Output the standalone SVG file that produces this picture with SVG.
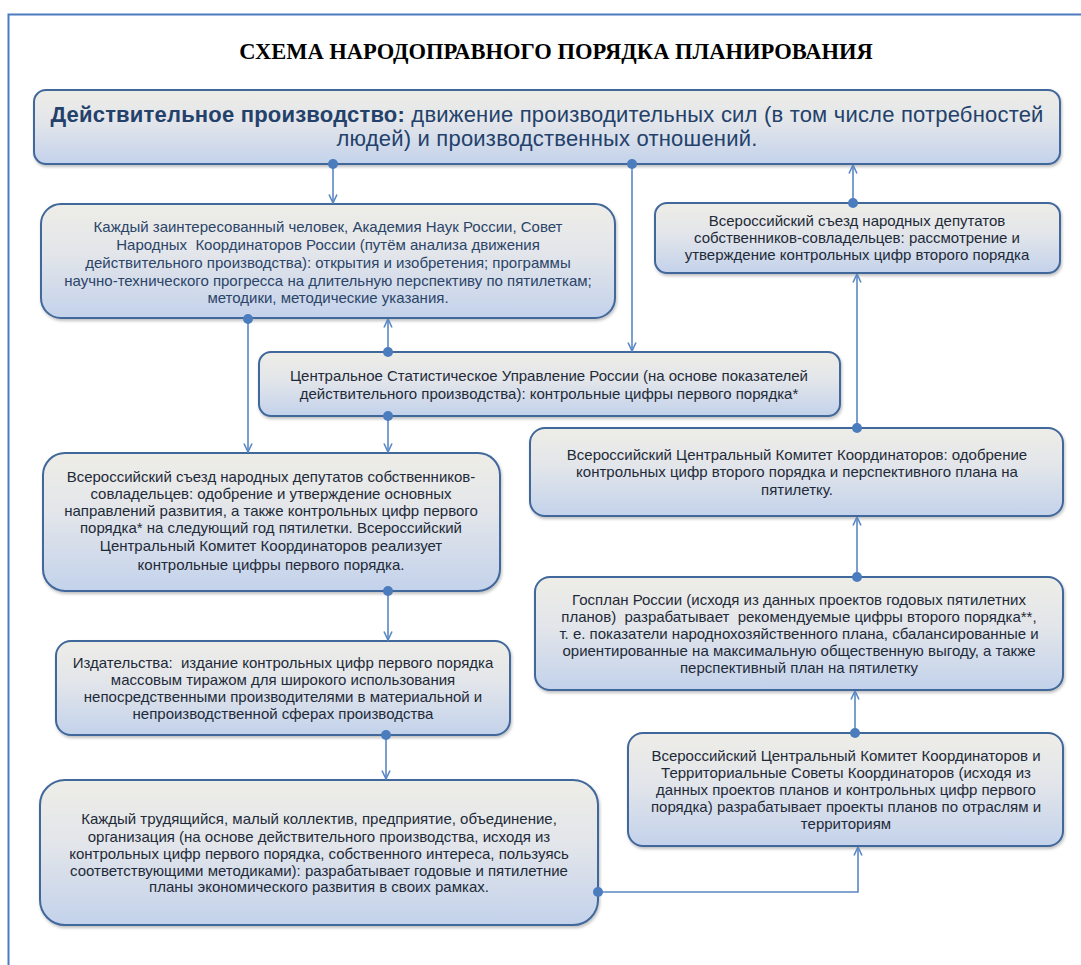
<svg xmlns="http://www.w3.org/2000/svg" width="1081" height="965" viewBox="0 0 1081 965">
  <defs>
    <linearGradient id="boxFill" x1="0" y1="0" x2="0" y2="1">
      <stop offset="0" stop-color="#eeede7"/>
      <stop offset="0.45" stop-color="#e2e5ea"/>
      <stop offset="1" stop-color="#c3d2eb"/>
    </linearGradient>
    <filter id="shadow" x="-5%" y="-5%" width="110%" height="115%">
      <feDropShadow dx="1" dy="2" stdDeviation="1.5" flood-color="#000" flood-opacity="0.25"/>
    </filter>
    <marker id="arrow" viewBox="0 0 10 10" refX="9.5" refY="5" markerWidth="10" markerHeight="10" markerUnits="userSpaceOnUse" orient="auto">
      <path d="M1,1 L9.5,5 L1,9" fill="none" stroke="#5a88c4" stroke-width="1.6"/>
    </marker>
    <marker id="dot" viewBox="0 0 10 10" refX="5" refY="5" markerWidth="10" markerHeight="10" markerUnits="userSpaceOnUse">
      <circle cx="5" cy="5" r="5" fill="#4a7cbe"/>
    </marker>
  </defs>
  <style>
    .box { fill: url(#boxFill); stroke: #41679a; stroke-width: 2; filter: url(#shadow); }
    .t { font-family: "Liberation Sans", Arial, sans-serif; font-size: 15px; fill: #1e2a38; text-anchor: middle; white-space: pre; }
    .tb { fill: #2b4468; }
    .head { font-family: "Liberation Sans", Arial, sans-serif; font-size: 22px; letter-spacing: 0.2px; fill: #23416a; text-anchor: middle; }
    .title { font-family: "Liberation Serif", "Times New Roman", serif; font-size: 22.5px; font-weight: bold; fill: #000; text-anchor: middle; }
    .conn { fill: none; stroke: #5a88c4; stroke-width: 1.6; marker-start: url(#dot); marker-end: url(#arrow); }
  </style>

  <rect width="1081" height="965" fill="#ffffff"/>
  <path d="M8.5,965 V14.5 H1081" fill="none" stroke="#4a7cbe" stroke-width="2"/>

  <text class="title" x="556" y="59">СХЕМА НАРОДОПРАВНОГО ПОРЯДКА ПЛАНИРОВАНИЯ</text>

  <g id="node-production">
    <rect class="box" x="34" y="90" width="1026" height="74" rx="12"/>
    <text class="head" x="547" y="122"><tspan font-weight="bold">Действительное производство:</tspan> движение производительных сил (в том числе потребностей</text>
    <text class="head" x="547" y="146">людей) и производственных отношений.</text>
  </g>

  <g id="node-science">
    <rect class="box" x="41" y="204" width="574" height="114" rx="20"/>
    <text class="t tb" x="328" y="232">Каждый заинтересованный человек, Академия Наук России, Совет</text>
    <text class="t tb" x="328" y="250">Народных  Координаторов России (путём анализа движения</text>
    <text class="t tb" x="328" y="268">действительного производства): открытия и изобретения; программы</text>
    <text class="t tb" x="328" y="286">научно-технического прогресса на длительную перспективу по пятилеткам;</text>
    <text class="t tb" x="328" y="303">методики, методические указания.</text>
  </g>

  <g id="node-csu">
    <rect class="box" x="259" y="352" width="581" height="64" rx="12"/>
    <text class="t" x="549" y="381">Центральное Статистическое Управление России (на основе показателей</text>
    <text class="t" x="549" y="399">действительного производства): контрольные цифры первого порядка*</text>
  </g>

  <g id="node-congress-2">
    <rect class="box" x="655" y="203" width="405" height="70" rx="12"/>
    <text class="t" x="857" y="226">Всероссийский съезд народных депутатов</text>
    <text class="t" x="857" y="243">собственников-совладельцев: рассмотрение и</text>
    <text class="t" x="857" y="260">утверждение контрольных цифр второго порядка</text>
  </g>

  <g id="node-vckk-approve">
    <rect class="box" x="530" y="428" width="533" height="88" rx="15"/>
    <text class="t" x="797" y="460">Всероссийский Центральный Комитет Координаторов: одобрение</text>
    <text class="t" x="797" y="477">контрольных цифр второго порядка и перспективного плана на</text>
    <text class="t" x="797" y="495">пятилетку.</text>
  </g>

  <g id="node-gosplan">
    <rect class="box" x="535" y="577" width="528" height="113" rx="15"/>
    <text class="t" x="799" y="605">Госплан России (исходя из данных проектов годовых пятилетних</text>
    <text class="t" x="799" y="622">планов)  разрабатывает  рекомендуемые цифры второго порядка**,</text>
    <text class="t" x="799" y="639">т. е. показатели народнохозяйственного плана, сбалансированные и</text>
    <text class="t" x="799" y="656">ориентированные на максимальную общественную выгоду, а также</text>
    <text class="t" x="799" y="673">перспективный план на пятилетку</text>
  </g>

  <g id="node-vckk-territories">
    <rect class="box" x="628" y="733" width="435" height="113" rx="15"/>
    <text class="t" x="846" y="761">Всероссийский Центральный Комитет Координаторов и</text>
    <text class="t" x="846" y="778">Территориальные Советы Координаторов (исходя из</text>
    <text class="t" x="846" y="795">данных проектов планов и контрольных цифр первого</text>
    <text class="t" x="846" y="812">порядка) разрабатывает проекты планов по отраслям и</text>
    <text class="t" x="846" y="829">территориям</text>
  </g>

  <g id="node-congress-1">
    <rect class="box" x="43" y="453" width="457" height="138" rx="22"/>
    <text class="t" x="271" y="482">Всероссийский съезд народных депутатов собственников-</text>
    <text class="t" x="271" y="499">совладельцев: одобрение и утверждение основных</text>
    <text class="t" x="271" y="516">направлений развития, а также контрольных цифр первого</text>
    <text class="t" x="271" y="533">порядка* на следующий год пятилетки. Всероссийский</text>
    <text class="t" x="271" y="551">Центральный Комитет Координаторов реализует</text>
    <text class="t" x="271" y="570">контрольные цифры первого порядка.</text>
  </g>

  <g id="node-publishers">
    <rect class="box" x="56" y="641" width="454" height="94" rx="15"/>
    <text class="t" x="283" y="668">Издательства:  издание контрольных цифр первого порядка</text>
    <text class="t" x="283" y="685">массовым тиражом для широкого использования</text>
    <text class="t" x="283" y="702">непосредственными производителями в материальной и</text>
    <text class="t" x="283" y="719">непроизводственной сферах производства</text>
  </g>

  <g id="node-workers">
    <rect class="box" x="40" y="780" width="558" height="145" rx="25"/>
    <text class="t" x="319" y="824">Каждый трудящийся, малый коллектив, предприятие, объединение,</text>
    <text class="t" x="319" y="842">организация (на основе действительного производства, исходя из</text>
    <text class="t" x="319" y="859">контрольных цифр первого порядка, собственного интереса, пользуясь</text>
    <text class="t" x="319" y="876">соответствующими методиками): разрабатывает годовые и пятилетние</text>
    <text class="t" x="319" y="892">планы экономического развития в своих рамках.</text>
  </g>

  <g id="connectors">
    <path class="conn" d="M333,164 V203"/>
    <path class="conn" d="M632,164 V351"/>
    <path class="conn" d="M853,203 V165"/>
    <path class="conn" d="M248,319 V452"/>
    <path class="conn" d="M388,352 V319"/>
    <path class="conn" d="M388,416 V452"/>
    <path class="conn" d="M857,428 V274"/>
    <path class="conn" d="M388,591 V640"/>
    <path class="conn" d="M857,577 V517"/>
    <path class="conn" d="M386,735 V779"/>
    <path class="conn" d="M855,733 V691"/>
    <path class="conn" d="M598,892 H858 V847"/>
  </g>
</svg>
